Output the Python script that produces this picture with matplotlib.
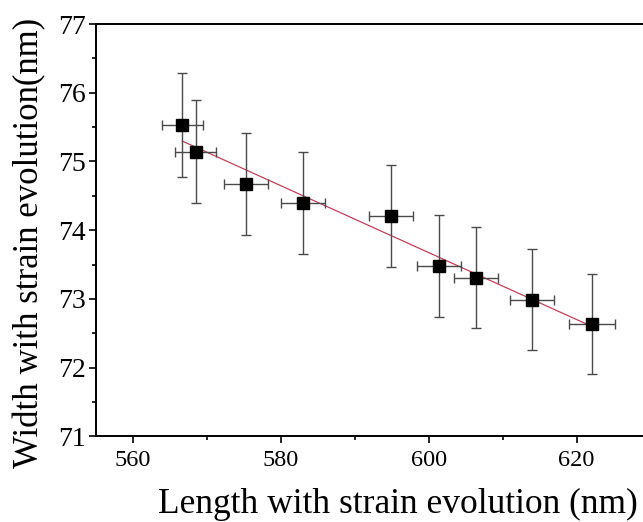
import matplotlib.pyplot as plt
import numpy as np
from matplotlib.ticker import MultipleLocator

# data
length = [566.7, 568.5, 575.3, 583.0, 594.9, 601.4, 606.4, 614.0, 622.1]
width = [75.53, 75.14, 74.67, 74.40, 74.21, 73.48, 73.31, 72.99, 72.63]
length_err = [2.8, 2.8, 3.0, 3.0, 3.0, 3.0, 3.0, 3.0, 3.1]
width_err = [0.75, 0.75, 0.74, 0.74, 0.74, 0.74, 0.74, 0.74, 0.73]

x_ticks = [560, 580, 600, 620]
y_ticks = [71, 72, 73, 74, 75, 76, 77]

plt.rcParams['font.family'] = ['Liberation Serif', 'DejaVu Serif']

fig = plt.figure(figsize=(6.43, 5.22), dpi=100)
ax = fig.add_axes([0.1488, 0.1642, 0.8631, 0.7898])

# linear fit through the points
k, b = np.polyfit(length, width, 1)
xf = np.array([min(length), max(length)])
ax.plot(xf, k * xf + b, color='#c0405a', lw=0.9, zorder=2)

ax.errorbar(length, width, xerr=length_err, yerr=width_err, fmt='s',
            color='black', ms=8, ecolor='#4a4a4a', elinewidth=1.0,
            capsize=3.5, capthick=1.0, zorder=3)

ax.set_xlim(555, 630)
ax.set_ylim(71, 77)
ax.set_xticks(x_ticks)
ax.set_yticks(y_ticks)
ax.xaxis.set_minor_locator(MultipleLocator(10))
ax.yaxis.set_minor_locator(MultipleLocator(0.5))
ax.tick_params(which='major', direction='out', length=5, width=1.2)
ax.tick_params(which='minor', direction='out', length=3, width=1.2)
ax.tick_params(axis='x', labelsize=17.5, pad=5)
ax.tick_params(axis='y', labelsize=20, pad=2)
ax.tick_params(top=False, right=False, which='both')

for s in ['left', 'bottom', 'top']:
    ax.spines[s].set_linewidth(1.4)
ax.spines['right'].set_visible(False)

ax.set_xlabel('Length with strain evolution (nm)', fontsize=25.5)
ax.set_ylabel('Width with strain evolution(nm)', fontsize=25)
ax.xaxis.set_label_coords(0.545, -0.125)
ax.yaxis.set_label_coords(-0.089, 0.469)

fig.savefig('out.png', dpi=100)
